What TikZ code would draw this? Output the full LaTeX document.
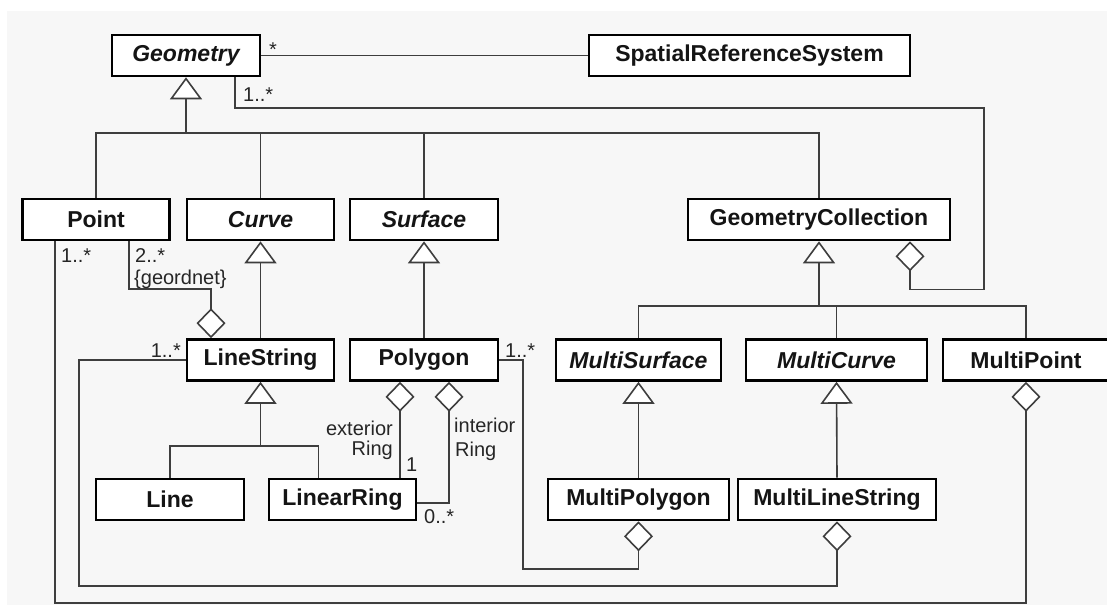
\documentclass[tikz,border=0pt]{standalone}
\usepackage{fontspec}
\setmainfont{Liberation Sans}
\usetikzlibrary{arrows.meta}
\definecolor{bgcol}{RGB}{247,247,247}
\definecolor{linecol}{RGB}{62,62,62}
\begin{document}
\begin{tikzpicture}[x=1pt, y=-1pt,
  cls/.style={draw=black, line width=2.6pt, fill=white, minimum height=41pt,
    inner sep=0pt, text=black!92, font=\fontsize{23}{27}\selectfont\bfseries},
  abs/.style={cls, font=\fontsize{23}{27}\selectfont\bfseries\itshape},
  conn/.style={draw=linecol, line width=1.6pt},
  gen/.style={conn, -{Triangle[fill=white, length=22pt, width=32pt]}},
  agg/.style={conn, {Diamond[fill=white, length=30pt, width=29pt]}-},
  lbl/.style={font=\fontsize{20}{23}\selectfont, text=black!85, inner sep=0pt}]

\useasboundingbox (0,0) rectangle (1107,605);
\fill[bgcol] (7,11) rectangle (1107,605);

% classes
\node[abs, minimum width=148pt] (geom)  at (186,55.5)   {Geometry};
\node[cls, minimum width=321pt] (srs)   at (749.5,55.5) {SpatialReferenceSystem};
\node[cls, minimum width=147pt] (point) at (96,219.5)   {Point};
\node[abs, minimum width=147pt] (curve) at (260.5,219.5) {Curve};
\node[abs, minimum width=148pt] (surf)  at (424,219.5)  {Surface};
\node[cls, minimum width=262pt] (gc)    at (819,219.5)  {GeometryCollection};
\node[cls, minimum width=147pt] (ls)    at (260.5,360)  {LineString};
\node[cls, minimum width=148pt] (pol)   at (424,360)    {Polygon};
\node[abs, minimum width=165pt] (ms)    at (638.5,360)  {MultiSurface};
\node[abs, minimum width=181pt] (mc)    at (836.5,360)  {MultiCurve};
\node[cls, minimum width=166pt] (mp)    at (1026,360)   {MultiPoint};
\node[cls, minimum width=148pt] (line)  at (170,499.5)  {Line};
\node[cls, minimum width=147pt] (lr)    at (342.5,499.5) {LinearRing};
\node[cls, minimum width=181pt] (mpol)  at (638.5,499.5) {MultiPolygon};
\node[cls, minimum width=198pt] (mls)   at (837,499.5)  {MultiLineString};

% generalisation trees
\coordinate (gb) at (186,133);
\draw[conn] (point.north) |- (gb);
\draw[conn] (curve.north) |- (gb);
\draw[conn] (surf.north) |- (gb);
\draw[conn] (gc.north) |- (gb);
\draw[gen] (gb) -- (geom.south);

\draw[gen] (ls.north) -- (curve.south);
\draw[gen] (pol.north) -- (surf.south);

\coordinate (lsb) at (260.5,446);
\draw[conn] (line.north) |- (lsb);
\draw[conn] ([xshift=-24pt]lr.north) |- (lsb);
\draw[gen] (lsb) -- (ls.south);

\coordinate (gcb) at (819,306);
\draw[conn] (ms.north) |- (gcb);
\draw[conn] (mc.north) |- (gcb);
\draw[conn] (mp.north) |- (gcb);
\draw[gen] (gcb) -- (gc.south);

\draw[gen] (mpol.north) -- (ms.south);
\draw[gen] (mls.north) -- (mc.south);

% associations and aggregations
\draw[conn] (geom.east) -- (srs.west);
\draw[agg] ([xshift=91pt]gc.south) -- ++(0,48) -| (984,108) -| ([xshift=49pt]geom.south);
\draw[agg] ([xshift=-49.5pt]ls.north) -- ++(0,-49) -| ([xshift=33pt]point.south);
\draw[agg] (mp.south) -- ++(0,221) -| ([xshift=-41pt]point.south);
\draw[agg] (mls.south) |- (79,586) |- (ls.west);
\draw[agg] (mpol.south) |- (523,569) |- (pol.east);
\draw[agg] ([xshift=-24pt]pol.south) -- ([xshift=-24pt]pol.south |- lr.north);
\draw[agg] ([xshift=25pt]pol.south) |- ([yshift=-3.5pt]lr.east);

% multiplicities and role names
\node[lbl, anchor=base west] (m1) at (269,56)  {*};
\node[lbl, anchor=base west] (m2) at (243,101) {1..*};
\node[lbl, anchor=base west] (m3) at (61,262)  {1..*};
\node[lbl, anchor=base west] (m4) at (135,262) {2..*};
\node[lbl, anchor=base west] (m5) at (134,284) {\{geordnet\}};
\node[lbl, anchor=base east] (m6) at (181,357) {1..*};
\node[lbl, anchor=base west] (m7) at (505,357) {1..*};
\node[lbl, anchor=base east] (r1) at (393,435) {exterior};
\node[lbl, anchor=base east] (r2) at (393,455) {Ring};
\node[lbl, anchor=base west] (m8) at (406,471) {1};
\node[lbl, anchor=base west] (r3) at (454,432) {interior};
\node[lbl, anchor=base west] (r4) at (455,456) {Ring};
\node[lbl, anchor=base west] (m9) at (424,523) {0..*};
\end{tikzpicture}
\end{document}
